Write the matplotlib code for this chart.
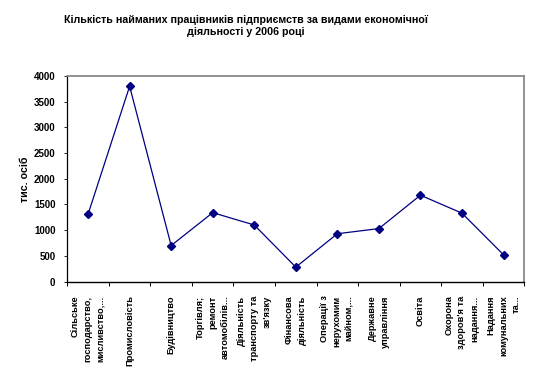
import matplotlib
matplotlib.use("Agg")
import matplotlib.pyplot as plt
from matplotlib.ticker import FixedLocator

categories = [
    "Сільське\nгосподарство,\nмисливство,...",
    "Промисловість",
    "Будівництво",
    "Торгівля;\nремонт\nавтомобілів...",
    "Діяльність\nтранспорту та\nзв'язку",
    "Фінансова\nдіяльність",
    "Операції з\nнерухомим\nмайном,...",
    "Державне\nуправління",
    "Освіта",
    "Охорона\nздоров'я та\nнадання...",
    "Надання\nкомунальних\nта...",
]
values = [1310, 3800, 700, 1340, 1100, 280, 930, 1030, 1680, 1330, 520]
yticks = [0, 500, 1000, 1500, 2000, 2500, 3000, 3500, 4000]

plt.rcParams['font.family'] = ['Liberation Sans', 'DejaVu Sans']
plt.rcParams['font.weight'] = 'bold'

W, H = 539, 385
fig = plt.figure(figsize=(W / 100, H / 100), dpi=100)
L, R, T, B = 67.3, 524.3, 76, 281.5
ax = fig.add_axes([L / W, 1 - B / H, (R - L) / W, (B - T) / H])

x = list(range(len(values)))
ax.plot(x, values, color='#000080', lw=0.9, marker='D', ms=4.2,
        mfc='#000080', mec='#000080')

ax.set_xlim(-0.5, len(values) - 0.5)
ax.set_ylim(0, 4000)
ax.set_yticks(yticks)
ax.set_yticklabels([str(v) for v in yticks], fontsize=7, fontweight='bold')
ax.tick_params(axis='y', length=2.5, width=0.6, pad=6, direction='out')

ax.set_xticks(x)
ax.set_xticklabels(categories, rotation=90, fontsize=6.7, fontweight='bold',
                   ha='center', va='top', multialignment='right',
                   linespacing=1.5)
ax.tick_params(axis='x', which='major', length=0, pad=10)
ax.xaxis.set_minor_locator(FixedLocator([i - 0.5 for i in range(len(values) + 1)]))
ax.tick_params(axis='x', which='minor', length=3, width=0.7, direction='out')

for s in ['top', 'right']:
    ax.spines[s].set_color('#808080')
    ax.spines[s].set_linewidth(1.2)
ax.spines['left'].set_color('black')
ax.spines['left'].set_linewidth(0.9)
ax.spines['bottom'].set_color('black')
ax.spines['bottom'].set_linewidth(1.0)

ax.set_ylabel('тис. осіб', fontsize=7.7, fontweight='bold', labelpad=3)

fig.text(245.5 / W, 1 - 26 / H,
         "Кількість найманих працівників підприємств за видами економічної\nдіяльності у 2006 році",
         ha='center', va='center', fontsize=7.7, fontweight='bold',
         linespacing=1.25)

fig.savefig('out.png', dpi=100)
